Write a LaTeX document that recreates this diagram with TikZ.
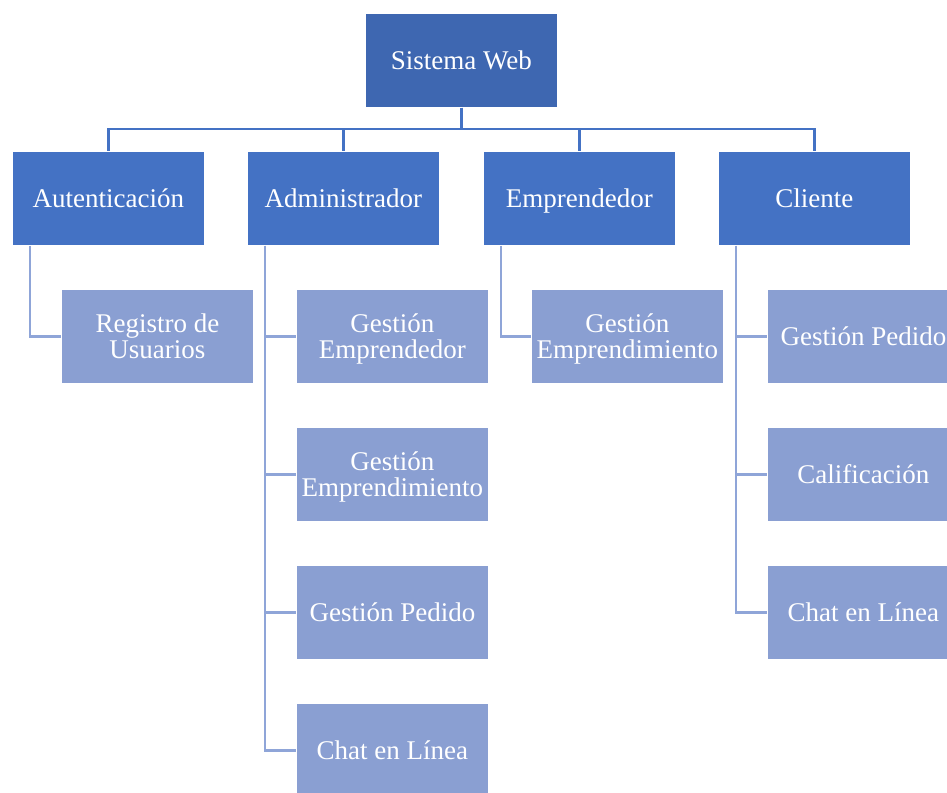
\documentclass[tikz,border=0pt]{standalone}
\usepackage{fontspec}
\setmainfont{Liberation Serif}
\definecolor{rootblue}{HTML}{3E67B1}
\definecolor{midblue}{HTML}{4472C4}
\definecolor{lightblue}{HTML}{8A9FD2}
\definecolor{linkdark}{HTML}{4472C4}
\definecolor{linklight}{HTML}{8FA5D8}
\tikzset{
  box/.style={draw=white, line width=0.8pt, minimum width=192pt, minimum height=94pt,
    inner sep=0pt, text=white, align=center, font=\fontsize{27}{26}\selectfont,
    text height=20pt, text depth=2pt, anchor=north west},
  twoline/.style={text height=44pt, text depth=0pt},
  rootbox/.style={box, fill=rootblue},
  topbox/.style={box, fill=midblue},
  subbox/.style={box, fill=lightblue},
  darklink/.style={draw=linkdark, line width=2.6pt},
  lightlink/.style={draw=linklight, line width=2.6pt},
}
\begin{document}
\begin{tikzpicture}[x=1pt, y=-1pt]
\useasboundingbox (0,0) rectangle (947,792);
\clip (0,0) rectangle (947,792);

% root and first level
\node[rootbox] (root) at (365,13) {Sistema Web};
\node[topbox] (aut) at (12,151) {Autenticación};
\node[topbox] (adm) at (247,151) {Administrador};
\node[topbox] (emp) at (483,151) {Emprendedor};
\node[topbox] (cli) at (718,151) {Cliente};

% second level
\node[subbox, twoline] (reg) at (61,289) {Registro de\\Usuarios};
\node[subbox, twoline] (adm1) at (296,289) {Gestión\\Emprendedor};
\node[subbox, twoline] (adm2) at (296,427) {Gestión\\Emprendimiento};
\node[subbox] (adm3) at (296,565) {Gestión Pedido};
\node[subbox] (adm4) at (296,703) {Chat en Línea};
\node[subbox, twoline] (emp1) at (531,289) {Gestión\\Emprendimiento};
\node[subbox] (cli1) at (767,289) {Gestión Pedido};
\node[subbox] (cli2) at (767,427) {Calificación};
\node[subbox] (cli3) at (767,565) {Chat en Línea};

% tree bus from the root
\coordinate (bus) at (0,129);
\foreach \n in {aut,adm,emp,cli}{
  \draw[darklink] (root.south) |- (bus -| \n.north) -- (\n.north);
}

% side rails to the second level
\foreach \p/\c in {aut/reg, adm/adm1, adm/adm2, adm/adm3, adm/adm4,
                   emp/emp1, cli/cli1, cli/cli2, cli/cli3}{
  \draw[lightlink] ([xshift=18pt]\p.south west) |- (\c.west);
}
\end{tikzpicture}
\end{document}
